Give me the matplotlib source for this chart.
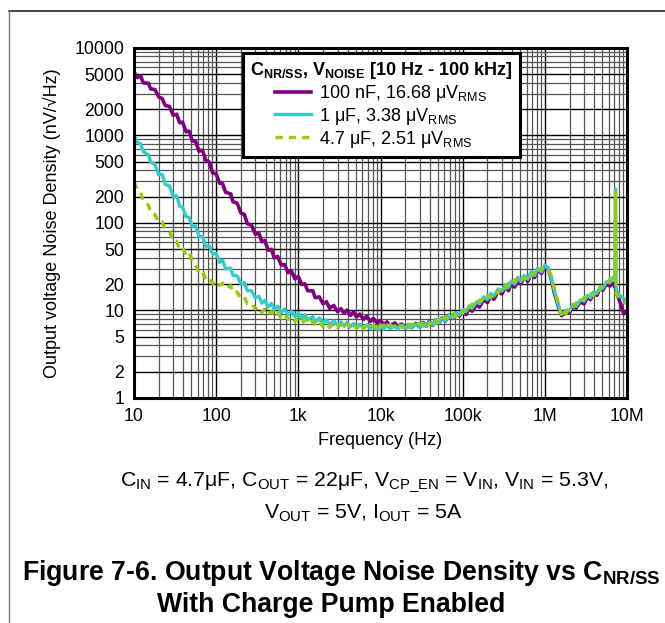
import matplotlib
matplotlib.use('Agg')
import matplotlib.pyplot as plt
from matplotlib.lines import Line2D
from matplotlib.ticker import FixedLocator, NullFormatter

plt.rcParams['font.family'] = ['Liberation Sans', 'DejaVu Sans']
plt.rcParams['mathtext.fontset'] = 'custom'
plt.rcParams['mathtext.rm'] = 'Liberation Sans'
plt.rcParams['mathtext.bf'] = 'Liberation Sans:bold'
plt.rcParams['mathtext.it'] = 'Liberation Sans:italic'

# frequency points (Hz)
freq = [10, 11, 12, 13, 15, 16, 18, 20, 22, 24, 27, 30, 33, 36, 39, 43, 47, 51, 56, 62, 68, 75, 82, 91,
        100, 110, 120, 130, 150, 160, 180, 200, 220, 240, 270, 300, 330, 360, 390, 430, 470, 510, 560, 620, 680, 750, 820, 910,
        1e3, 1.1e3, 1.2e3, 1.3e3, 1.5e3, 1.6e3, 1.8e3, 2e3, 2.2e3, 2.4e3, 2.7e3, 3e3, 3.3e3, 3.6e3, 3.9e3, 4.3e3, 4.7e3, 5.1e3, 5.6e3, 6.2e3, 6.8e3, 7.5e3, 8.2e3, 9.1e3,
        1e4, 1.1e4, 1.2e4, 1.3e4, 1.5e4, 1.6e4, 1.8e4, 2e4, 2.2e4, 2.4e4, 2.7e4, 3e4, 3.3e4, 3.6e4, 3.9e4, 4.3e4, 4.7e4, 5.1e4, 5.6e4, 6.2e4, 6.8e4, 7.5e4, 8.2e4, 9.1e4,
        1e5, 1.1e5, 1.2e5, 1.3e5, 1.5e5, 1.6e5, 1.8e5, 2e5, 2.2e5, 2.4e5, 2.7e5, 3e5, 3.3e5, 3.6e5, 3.9e5, 4.3e5, 4.7e5, 5.1e5, 5.6e5, 6.2e5, 6.8e5, 7.5e5, 8.2e5, 9.1e5,
        1e6, 1.1e6, 1.2e6, 1.3e6, 1.5e6, 1.6e6, 1.8e6, 2e6, 2.2e6, 2.4e6, 2.7e6, 3e6, 3.3e6, 3.6e6, 3.9e6, 4.3e6, 4.7e6, 5.1e6, 5.6e6, 6.2e6, 6.8e6,
        7.1e6, 7.25e6, 7.35e6, 7.5e6, 8.2e6, 9.1e6, 1e7]

# noise density (nV/rtHz), C_NR/SS = 100 nF
noise_100n = [5300, 4600, 4800, 4000, 3950, 3400, 3350, 2750, 2650, 2200, 2150, 1700, 1750, 1400, 1420, 1100, 1120, 870, 860, 660, 680, 520, 500, 370,
              365, 285, 280, 225, 215, 175, 168, 130, 125, 98, 94, 74, 77, 61, 63, 49, 50, 40, 41.5, 33, 33.5, 27, 28.5, 23,
              24.5, 19.8, 20.2, 16.8, 16.8, 14.0, 14.3, 11.9, 12.6, 10.6, 11.4, 9.7, 10.5, 9.3, 10.1, 8.8, 9.6, 8.4, 9.1, 7.9, 8.6, 7.5, 8.1, 7.2,
              7.7, 6.9, 7.4, 6.7, 7.2, 6.5, 7.0, 6.3, 6.9, 6.4, 7.1, 6.5, 7.3, 6.6, 7.5, 6.8, 7.8, 7.1, 8.2, 7.6, 8.8, 8.1, 9.4, 8.7,
              9.6, 9.0, 10.6, 9.8, 11.8, 10.9, 13.3, 12.3, 14.6, 13.4, 16.5, 15.4, 18.5, 16.8, 20.3, 18.5, 22.3, 20.2, 24.0, 21.5, 26.5, 23.8, 29.0, 26.5,
              32, 30, 22.5, 16, 10.2, 8.7, 9.6, 9.5, 11.2, 10.6, 12.6, 11.9, 14.2, 13.3, 15.6, 14.9, 17.8, 17.1, 20.0, 19.0, 20.5,
              18.6, 18.0, 17.2, 15.5, 12.5, 9.2, 9.6]

# C_NR/SS = 1 uF
noise_1u = [1000, 830, 810, 650, 600, 495, 470, 355, 360, 275, 265, 200, 205, 155, 152, 118, 116, 92, 92, 70, 70, 54, 55, 44,
            45, 35.5, 37.5, 30, 30.5, 25.2, 24.8, 20.1, 20.8, 16.8, 16.8, 13.9, 14.6, 12.1, 13.0, 11.0, 12.0, 10.2, 11.2, 9.4, 10.4, 8.9, 9.8, 8.5,
            9.3, 8.1, 8.9, 7.8, 8.5, 7.4, 8.2, 7.2, 7.8, 6.9, 7.6, 6.8, 7.4, 6.6, 7.3, 6.5, 7.1, 6.4, 7.0, 6.2, 6.9, 6.2, 6.8, 6.1,
            6.7, 6.1, 6.8, 6.2, 6.7, 6.1, 6.8, 6.3, 6.9, 6.3, 7.0, 6.4, 7.2, 6.6, 7.4, 6.9, 7.8, 7.2, 8.2, 7.6, 8.8, 8.2, 9.4, 8.9,
            10.3, 9.7, 11.3, 10.6, 12.7, 11.9, 14.3, 13.3, 15.7, 14.6, 17.6, 16.7, 19.8, 18.3, 21.7, 20.0, 23.9, 21.4, 25.2, 22.8, 27.6, 25.0, 30.4, 27.6,
            33.0, 30.5, 23.5, 17.0, 10.5, 9.0, 10.0, 9.9, 11.8, 11.1, 13.2, 12.8, 14.9, 14.0, 16.3, 15.7, 18.6, 18.0, 21.3, 20.8, 24.0,
            23.5, 245, 18, 16.5, 14.8, 13.6, 13.0]

# C_NR/SS = 4.7 uF
noise_4u7 = [295, 240, 228, 175, 160, 130, 125, 101, 103, 84, 80, 62, 62, 49.5, 52, 43, 46, 36, 33, 26.5, 27.8, 22.5, 23.5, 20.2,
             21.8, 19.4, 20.5, 18.0, 19.2, 16.0, 16.3, 13.7, 14.2, 11.9, 12.1, 10.4, 11.0, 9.5, 10.3, 9.0, 9.8, 8.6, 9.4, 8.2, 9.0, 7.9, 8.6, 7.5,
             8.2, 7.2, 7.9, 7.0, 7.6, 6.7, 7.4, 6.5, 7.1, 6.4, 7.1, 6.4, 7.0, 6.3, 7.0, 6.3, 6.9, 6.2, 6.9, 6.2, 6.8, 6.2, 6.8, 5.8,
             6.6, 6.8, 6.2, 6.9, 6.3, 6.9, 6.4, 7.0, 6.4, 7.0, 6.5, 7.2, 6.6, 7.4, 6.8, 7.7, 7.1, 8.0, 7.4, 8.5, 7.9, 9.1, 8.5, 9.8,
             9.3, 10.8, 10.2, 11.8, 11.4, 13.2, 12.8, 14.8, 14.0, 16.3, 15.8, 18.7, 17.7, 20.5, 19.4, 22.5, 21.3, 24.0, 22.3, 25.8, 24.4, 28.3, 26.8, 31.0,
             29.0, 29.5, 24.5, 18.0, 11.0, 8.3, 9.2, 11.0, 10.7, 12.3, 12.0, 14.1, 13.4, 15.5, 14.8, 17.4, 17.0, 20.0, 19.5, 23.0, 24.5,
             23, 230, 16, 15, 13.5, 12.5, 12.0]

labels = ['100 nF, 16.68 \u03bcV$_{\\mathrm{RMS}}$',
          '1 \u03bcF, 3.38 \u03bcV$_{\\mathrm{RMS}}$',
          '4.7 \u03bcF, 2.51 \u03bcV$_{\\mathrm{RMS}}$']
colors = ['#800080', '#33CCCC', '#99CC00']

xticks = [10, 100, 1e3, 1e4, 1e5, 1e6, 1e7]
xticklabels = ['10', '100', '1k', '10k', '100k', '1M', '10M']
yticks = [1, 2, 5, 10, 20, 50, 100, 200, 500, 1000, 2000, 5000, 10000]
yticklabels = ['1', '2', '5', '10', '20', '50', '100', '200', '500', '1000', '2000', '5000', '10000']


def minor_grid(lo, hi):
    out = []
    d = lo
    while d < hi:
        for m in range(2, 10):
            out.append(m * d)
        d *= 10
    return out


fig = plt.figure(figsize=(6.65, 6.23), dpi=100)
ax = fig.add_axes([0.2015, 0.3612, 0.7414, 0.5618])

ax.plot(freq, noise_100n, color=colors[0], lw=2.6, label=labels[0], zorder=3)
ax.plot(freq, noise_1u, color=colors[1], lw=2.4, label=labels[1], zorder=4)
ax.plot(freq, noise_4u7, color=colors[2], lw=2.4, ls=(0, (2.2, 1.8)), label=labels[2], zorder=5)

ax.set_xscale('log')
ax.set_yscale('log')
ax.set_xlim(10, 1e7)
ax.set_ylim(1, 10000)

ax.xaxis.set_major_locator(FixedLocator(xticks))
ax.set_xticklabels(xticklabels)
ax.xaxis.set_minor_locator(FixedLocator(minor_grid(10, 1e7)))
ax.xaxis.set_minor_formatter(NullFormatter())
ax.yaxis.set_major_locator(FixedLocator(yticks))
ax.set_yticklabels(yticklabels)
ax.yaxis.set_minor_locator(FixedLocator([v for v in minor_grid(1, 1e4) if v not in yticks]))
ax.yaxis.set_minor_formatter(NullFormatter())

ax.tick_params(which='both', length=0, labelsize=12.7, pad=7)
ax.grid(True, which='major', color='black', lw=1.0, zorder=1)
ax.grid(True, which='minor', color='#555555', lw=0.9, zorder=1)
ax.set_axisbelow(True)
for s in ax.spines.values():
    s.set_linewidth(2.2)
    s.set_zorder(6)

ax.set_xlabel('Frequency (Hz)', fontsize=13, labelpad=5)
ax.set_ylabel('Output voltage Noise Density (nV/\u221aHz)', fontsize=13, labelpad=10)

leg = ax.legend(loc='upper left', bbox_to_anchor=(0.221, 0.986), borderaxespad=0,
                title='$\\mathbf{C_{NR/SS}}$, $\\mathbf{V_{NOISE}}$ [10 Hz - 100 kHz]',
                title_fontproperties={'weight': 'bold', 'size': 13}, fontsize=13,
                fancybox=False, framealpha=1, edgecolor='black', handlelength=2.0,
                handletextpad=0.45, labelspacing=0.1, borderpad=0.4)
leg.get_frame().set_linewidth(2.2)
leg.set_zorder(7)

# page frame
fig.add_artist(Line2D([0.0135, 1.0], [0.9823, 0.9823], color='#222222', lw=1.2))
fig.add_artist(Line2D([0.0135, 0.0135], [0.0, 0.9823], color='#777777', lw=1.0))

fig.text(0.547, 0.226, 'C$_{\\mathrm{IN}}$ = 4.7\u03bcF, C$_{\\mathrm{OUT}}$ = 22\u03bcF, V$_{\\mathrm{CP\\_EN}}$ = V$_{\\mathrm{IN}}$, V$_{\\mathrm{IN}}$ = 5.3V,',
         ha='center', va='center', fontsize=15.3)
fig.text(0.547, 0.176, 'V$_{\\mathrm{OUT}}$ = 5V, I$_{\\mathrm{OUT}}$ = 5A', ha='center', va='center', fontsize=15.3)
fig.text(0.513, 0.081, 'Figure 7-6. Output Voltage Noise Density vs C$_{\\mathbf{NR/SS}}$',
         ha='center', va='center', fontsize=19.2, weight='bold')
fig.text(0.498, 0.029, 'With Charge Pump Enabled', ha='center', va='center', fontsize=19.2, weight='bold')

fig.savefig('out.png', dpi=100)
